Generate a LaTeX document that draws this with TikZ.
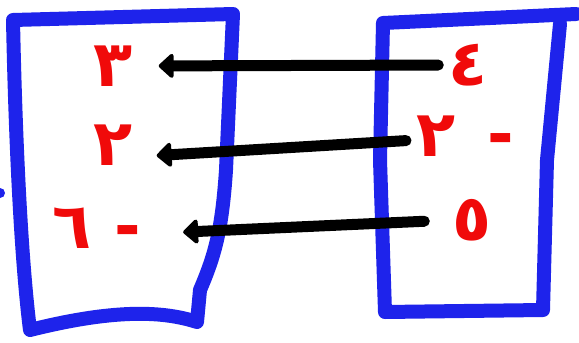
\documentclass[tikz,border=0pt]{standalone}
\usepackage{fontspec}
\newfontfamily\arabicfont[Script=Arabic]{DejaVu Sans}
\TeXXeTstate=1
\usetikzlibrary{arrows.meta}
\definecolor{penblue}{RGB}{30,35,235}
\definecolor{penred}{RGB}{240,10,10}

\begin{document}
\begin{tikzpicture}[x=1pt,y=-1pt,
    frame/.style={draw=penblue, line width=14pt, line join=round, line cap=round},
    digit/.style={text=penred, font=\arabicfont\bfseries\fontsize{64}{72}\selectfont, inner sep=0pt},
    linkarrow/.style={draw=black, line width=11pt, line cap=round, -{Triangle[round,length=16pt,width=28pt]}}
]
\fill[white] (0,0) rectangle (579,343);
\useasboundingbox (0,0) rectangle (579,343);

% Boites
\draw[frame] (13,20) -- (233,14) -- (226,170) .. controls (222,230) and (215,255) .. (200,290)
    -- (197,322) .. controls (160,310) and (110,310) .. (30,330) .. controls (20,250) and (15,120) .. cycle;
\draw[frame] (560,24) -- (547,160) -- (543,310) -- (385,312) -- (380,160) -- (383,23) -- (576,14);
\fill[penblue] (0,193) circle (5);

% Gauche
\node[digit] (l3) at (113,66) {٣};
\node[digit] (l2) at (113,145) {٢};
\node[digit] (l6) at (97,228) {\beginR-\hspace{0.35em}٦\endR};

% Droite
\node[digit] (r4) at (468,65) {٤};
\node[digit] (r2) at (465,136) {\beginR-\hspace{0.5em}٢\endR};
\node[digit] (r5) at (472,220) {٥};

\draw[linkarrow, shorten <=10pt, shorten >=26pt] (r4.west) -- (l3.east);
\draw[linkarrow, shorten <=10pt, shorten >=24pt] ([yshift=-4pt]r2.west) -- ([yshift=-12pt]l2.east);
\draw[linkarrow, shorten <=28pt, shorten >=42pt] (r5.west) -- ([yshift=-6pt]l6.east);
\end{tikzpicture}
\end{document}
